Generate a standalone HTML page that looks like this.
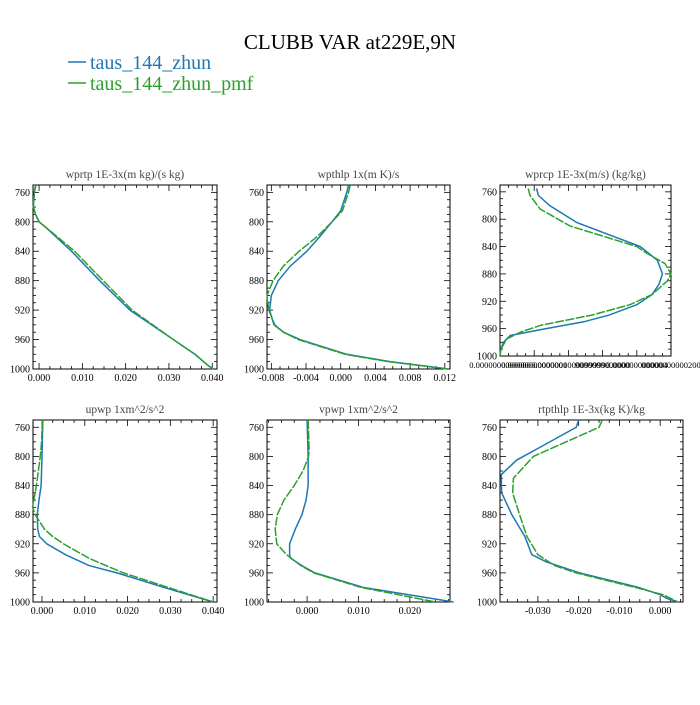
<!DOCTYPE html>
<html><head><meta charset="utf-8"><style>
body{margin:0;background:#fff}
svg text{font-family:"Liberation Serif",serif}
</style></head><body>
<svg id="c" width="700" height="700" viewBox="0 0 700 700" xmlns="http://www.w3.org/2000/svg">
<rect width="700" height="700" fill="#fff"/>
<text x="350" y="49" text-anchor="middle" font-size="21" fill="#000">CLUBB VAR at229E,9N</text>
<line x1="68" y1="62" x2="86" y2="62" stroke="#1f77b4" stroke-width="1.5"/>
<text x="90" y="69" font-size="20" fill="#1f77b4">taus_144_zhun</text>
<line x1="68" y1="83" x2="86" y2="83" stroke="#2ca02c" stroke-width="1.5"/>
<text x="90" y="90" font-size="20" fill="#2ca02c">taus_144_zhun_pmf</text>
</svg>
<script>
// ---- data ----
const wprtpLev = [750,760,780,790,800,810,840,880,920,960,980,990,995,1000];
const wprtpBlue = [-0.0008,-0.0011,-0.0013,-0.0008,0.0000,0.0020,0.0075,0.0140,0.0210,0.0310,0.0360,0.0380,0.0390,0.0402];
const wprtpGreen = [-0.0007,-0.0011,-0.0013,-0.0008,0.0000,0.0021,0.0082,0.0148,0.0215,0.0310,0.0360,0.0380,0.0390,0.0402];

const wpthlpLev = [750,760,785,800,820,840,860,880,900,920,940,950,960,980,990,1000];
const wpthlpBlue = [0.0009,0.0007,0.0000,-0.0010,-0.0024,-0.0039,-0.0058,-0.0072,-0.0080,-0.0082,-0.0077,-0.0066,-0.0047,0.0007,0.0057,0.0124];
const wpthlpGreen = [0.0011,0.0009,0.0002,-0.0010,-0.0027,-0.0048,-0.0066,-0.0078,-0.0085,-0.0083,-0.0076,-0.0066,-0.0049,0.0005,0.0055,0.0124];

const wprcpLevB = [755,765,780,805,840,860,880,895,910,925,940,950,960,970,980,990,1000];
const wprcpBlue = [0.214,0.224,0.29,0.45,0.82,0.92,0.95,0.93,0.89,0.80,0.64,0.49,0.27,0.06,0.02,0.005,0];
const wprcpLevG = [755,765,785,810,840,850,865,880,890,910,925,940,955,965,975,990,1000];
const wprcpGreen = [0.165,0.175,0.234,0.41,0.80,0.86,0.965,1.0,0.98,0.89,0.76,0.54,0.24,0.12,0.04,0.005,0];

const upwpLevB = [750,800,840,860,880,900,910,920,935,950,960,980,1000];
const upwpBlue = [0.0002,0.0000,-0.0002,-0.0007,-0.0011,-0.0010,-0.0006,0.0011,0.0055,0.0110,0.0175,0.0285,0.0400];
const upwpLevG = [750,780,800,840,870,880,890,900,910,920,940,960,980,1000];
const upwpGreen = [0.0001,-0.0001,-0.0004,-0.0013,-0.0022,-0.0016,-0.0005,0.0006,0.0025,0.0050,0.0110,0.0190,0.0295,0.0400];

const vpwpLevB = [750,800,840,860,880,900,920,935,940,950,960,980,1000];
const vpwpBlue = [0.0000,0.0002,0.0002,-0.0002,-0.0010,-0.0023,-0.0034,-0.0034,-0.0032,-0.0010,0.0015,0.0110,0.0285];
const vpwpLevG = [750,790,800,820,840,860,880,900,920,935,950,960,980,1000];
const vpwpGreen = [0.0002,0.0004,0.0003,-0.0008,-0.0025,-0.0045,-0.0058,-0.0062,-0.0059,-0.0040,-0.0012,0.0013,0.0105,0.0250];

const rtLevB = [750,760,790,805,825,850,880,910,935,945,960,980,990,995,1000];
const rtBlue = [-0.0200,-0.0206,-0.0303,-0.0352,-0.0390,-0.0389,-0.0364,-0.0332,-0.0315,-0.0279,-0.0198,-0.0053,0.0000,0.0016,0.0044];
const rtLevG = [750,760,800,830,850,880,910,935,950,960,980,990,1000];
const rtGreen = [-0.0142,-0.0150,-0.0311,-0.0360,-0.0362,-0.0345,-0.0327,-0.0300,-0.0259,-0.0206,-0.0061,0.0007,0.0044];

const yTicks = [760,800,840,880,920,960,1000];
const t1 = ["0.000","0.010","0.020","0.030","0.040"];
const v1 = [0,0.01,0.02,0.03,0.04];
const t2 = ["-0.008","-0.004","0.000","0.004","0.008","0.012"];
const v2 = [-0.008,-0.004,0,0.004,0.008,0.012];
const t3 = ["0.0000000000000","0.00000000000001","0.0000000000099999","9000000000000","0.0000000000004","00000000000200"];
const v3 = [0,0.2,0.4,0.6,0.8,1.0];
const t5 = ["0.000","0.010","0.020"];
const v5 = [0,0.01,0.02];
const t6 = ["-0.030","-0.020","-0.010","0.000"];
const v6 = [-0.03,-0.02,-0.01,0];

const NS = "http://www.w3.org/2000/svg";
const svg = document.getElementById('c');
function mk(tag, attrs, parent){const e=document.createElementNS(NS,tag);for(const k in attrs)e.setAttribute(k,attrs[k]);(parent||svg).appendChild(e);return e;}

function panel(o){
  const g = mk('g',{});
  
  
  const sx = v => o.x0 + (v - o.xmin)/(o.xmax - o.xmin)*(o.x1 - o.x0);
  const sy = p => o.y0 + (p - 750)/250*(o.y1 - o.y0);
  const t = mk('text',{x:(o.x0+o.x1)/2,y:o.y0-7,'text-anchor':'middle','font-size':11.5,fill:'#444','font-family':'DejaVu Sans, sans-serif'},g);
  
  
  t.textContent = o.title;
  const fr = mk('rect',{x:o.x0,y:o.y0,width:o.x1-o.x0,height:o.y1-o.y0,fill:'none',stroke:'#000','stroke-width':1},g);
  
  
  // y ticks
  for(let p=750;p<=1000;p+=10){
    const y=sy(p), major=yTicks.includes(p), L=major?6:3;
    mk('line',{x1:o.x0,x2:o.x0+L,y1:y,y2:y,stroke:'#000','stroke-width':0.8},g);
    mk('line',{x1:o.x1,x2:o.x1-L,y1:y,y2:y,stroke:'#000','stroke-width':0.8},g);
  }
  yTicks.forEach(p=>{
    const tx=mk('text',{x:o.x0-3,y:sy(p)+3.5,'text-anchor':'end','font-size':10},g);
    
    
    tx.textContent=p;
  });
  // x ticks
  const step=(o.xv[1]-o.xv[0])/4;
  for(let v=o.xv[0]-step*40; v<=o.xmax; v+=step){
    if(v<o.xmin-1e-12) continue;
    const x=sx(v);
    const major=o.xv.some(q=>Math.abs(q-v)<step/10), L=major?6:3;
    mk('line',{x1:x,x2:x,y1:o.y1,y2:o.y1-L,stroke:'#000','stroke-width':0.8},g);
    mk('line',{x1:x,x2:x,y1:o.y0,y2:o.y0+L,stroke:'#000','stroke-width':0.8},g);
  }
  o.xv.forEach((v,i)=>{
    const tx=mk('text',{x:sx(v),y:o.y1+12,'text-anchor':'middle','font-size':o.fs||10},g);
    
    
    tx.textContent=o.xt[i];
  });
  const line=(lev,vals,col,dash,nm)=>{
    const d=lev.map((p,i)=>(i?'L':'M')+sx(vals[i]).toFixed(2)+','+sy(p).toFixed(2)).join('');
    const pth=mk('path',{d:d,fill:'none',stroke:col,'stroke-width':1.5,'stroke-dasharray':dash},g);
    
    
  };
  line(o.lb,o.b,'#1f77b4','none',o.name+'-zhun-line');
  line(o.lg,o.g,'#2ca02c','9 1.5',o.name+'-zhun-pmf-line');
}

panel({name:'wprtp-panel',title:'wprtp  1E-3x(m kg)/(s kg)',x0:33,x1:217,y0:185,y1:369,xmin:-0.0014,xmax:0.0411,xv:v1,xt:t1,lb:wprtpLev,b:wprtpBlue,lg:wprtpLev,g:wprtpGreen});
panel({name:'wpthlp-panel',title:'wpthlp  1x(m K)/s',x0:267,x1:450,y0:185,y1:369,xmin:-0.0085,xmax:0.0126,xv:v2,xt:t2,lb:wpthlpLev,b:wpthlpBlue,lg:wpthlpLev,g:wpthlpGreen});
panel({name:'wprcp-panel',title:'wprcp  1E-3x(m/s) (kg/kg)',x0:500,x1:671,y0:185,y1:356,xmin:0,xmax:1.0,xv:v3,xt:t3,fs:8.5,lb:wprcpLevB,b:wprcpBlue,lg:wprcpLevG,g:wprcpGreen});
panel({name:'upwp-panel',title:'upwp  1xm^2/s^2',x0:33,x1:217,y0:420,y1:602,xmin:-0.0021,xmax:0.0409,xv:v1,xt:t1,lb:upwpLevB,b:upwpBlue,lg:upwpLevG,g:upwpGreen});
panel({name:'vpwp-panel',title:'vpwp  1xm^2/s^2',x0:267,x1:450,y0:420,y1:602,xmin:-0.0078,xmax:0.0278,xv:v5,xt:t5,lb:vpwpLevB,b:vpwpBlue,lg:vpwpLevG,g:vpwpGreen});
panel({name:'rtpthlp-panel',title:'rtpthlp  1E-3x(kg K)/kg',x0:500,x1:683,y0:420,y1:602,xmin:-0.0393,xmax:0.0056,xv:v6,xt:t6,lb:rtLevB,b:rtBlue,lg:rtLevG,g:rtGreen});
</script>
</body></html>
